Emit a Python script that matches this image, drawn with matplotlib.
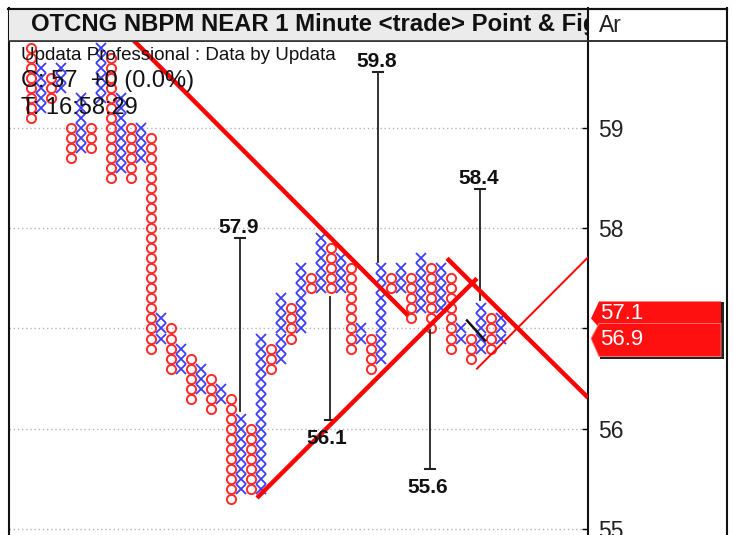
import matplotlib
matplotlib.use('Agg')
import matplotlib.pyplot as plt
import numpy as np
from matplotlib.patches import Polygon, Rectangle

plt.rcParams['font.family'] = ['Liberation Sans', 'DejaVu Sans']

# ---- Point & Figure columns (box size 0.1) ----
col_type = ['O', 'X'] * 24
col_high = [59.8, 59.6, 59.5, 59.6, 59.0, 59.3, 59.0, 59.8, 59.7, 59.3, 59.0, 59.0,
            58.9, 57.1, 57.0, 56.8, 56.7, 56.6, 56.5, 56.4, 56.3, 56.1, 56.0, 56.9,
            56.8, 57.3, 57.2, 57.6, 57.5, 57.9, 57.8, 57.7, 57.6, 57.0, 56.9, 57.6,
            57.5, 57.6, 57.5, 57.7, 57.6, 57.6, 57.5, 57.0, 56.9, 57.2, 57.1, 57.1]
col_low = [59.1, 59.2, 59.3, 59.4, 58.7, 58.8, 58.8, 59.3, 58.5, 58.6, 58.5, 58.7,
           56.8, 56.9, 56.6, 56.6, 56.3, 56.4, 56.2, 56.3, 55.3, 55.4, 55.4, 55.4,
           56.6, 56.7, 56.9, 57.0, 57.4, 57.4, 57.4, 57.4, 56.8, 56.9, 56.6, 56.7,
           57.4, 57.4, 57.1, 57.2, 57.0, 57.2, 56.8, 56.9, 56.7, 56.8, 56.8, 56.9]
box = 0.1

# trend lines (column, price) end points
thick_lines_x = [(10.2, 37.7), (22.6, 44.6), (41.6, 55.7)]
thick_lines_y = [(59.88, 57.13), (55.31, 57.50), (57.70, 56.31)]
thin_line_x = (44.6, 55.7)
thin_line_y = (56.60, 57.71)
black_seg_x = (43.6, 45.4)
black_seg_y = (57.08, 56.88)

# price targets
target_labels = ['57.9', '59.8', '58.4', '56.1', '55.6']
target_col = [20.9, 34.7, 44.9, 29.9, 39.9]
target_cap = [57.90, 59.56, 58.39, 56.09, 55.60]
target_end = [56.18, 57.66, 57.28, 57.31, 56.99]
target_up = [True, True, True, False, False]

yticks = [55, 56, 57, 58, 59]
last_labels = ['57.1', '56.9']
last_values = [57.1, 56.9]

title = 'OTCNG NBPM NEAR 1 Minute <trade> Point & Fig'
sub1 = 'Updata Professional : Data by Updata'
sub2 = 'C: 57  +0 (0.0%)'
sub3 = 'T: 16:58:29'

W, H = 734, 535
fig = plt.figure(figsize=(W / 100, H / 100), dpi=100)

ax = fig.add_axes([9 / W, 0, (588 - 9) / W, (535 - 41) / H])
ax.set_xlim(-2.2, 55.7)
ax.set_ylim(54.94, 59.868)

red = '#ff2a2a'
blue = '#3c3cff'
for k, (t, hi, lo) in enumerate(zip(col_type, col_high, col_low)):
    n = int(round((hi - lo) / box)) + 1
    ps = lo + box * np.arange(n)
    if t == 'O':
        ax.plot([k] * n, ps, ls='none', marker='o', ms=6.6, mew=1.4,
                mfc='none', mec=red, zorder=3)
    else:
        ax.plot([k] * n, ps, ls='none', marker='x', ms=7.6, mew=1.3,
                color=blue, zorder=2)

for xs, ys in zip(thick_lines_x, thick_lines_y):
    ax.plot(xs, ys, color='#ff0000', lw=3.2, zorder=5, solid_capstyle='butt')
ax.plot(thin_line_x, thin_line_y, color='#ff0000', lw=1.4, zorder=5)
ax.plot(black_seg_x, black_seg_y, color='#111111', lw=1.8, zorder=5)

for lab, cx, cap, end, up in zip(target_labels, target_col, target_cap, target_end, target_up):
    ax.plot([cx, cx], [cap, end], color='#222222', lw=1.3, zorder=4)
    ax.plot([cx - 0.5, cx + 0.5], [cap, cap], color='#222222', lw=1.5, zorder=4)
    if up:
        ax.annotate(lab, (cx, cap), xytext=(-1, 7.5), textcoords='offset points',
                    ha='center', va='center', fontsize=15, fontweight='bold',
                    color='#111111', zorder=6)
    else:
        ax.annotate(lab, (cx, cap), xytext=(-2, -13.5), textcoords='offset points',
                    ha='center', va='center', fontsize=15, fontweight='bold',
                    color='#111111', zorder=6)

ax.set_yticks(yticks)
ax.set_yticklabels([str(v) for v in yticks])
ax.yaxis.tick_right()
ax.tick_params(axis='y', direction='in', length=4.5, width=1.0, pad=7.5,
               labelsize=16.5, labelcolor='#222222')
ax.set_xticks([])
ax.yaxis.grid(True, color='#b5b5b5', lw=1.0, ls=(0, (1, 2)))
ax.set_axisbelow(True)
for s in ['left', 'top', 'bottom']:
    ax.spines[s].set_visible(False)
ax.spines['right'].set_linewidth(1.5)
ax.spines['right'].set_color('#111111')
ax.patch.set_alpha(0)

# overlay in pixel coordinates
ov = fig.add_axes([0, 0, 1, 1], zorder=10)
ov.set_xlim(0, W)
ov.set_ylim(H, 0)
ov.axis('off')
ov.patch.set_visible(False)

# header (title in its own clipped axes)
hdr = fig.add_axes([9 / W, 1 - 41 / H, 579 / W, 32 / H], zorder=11)
hdr.set_xlim(9, 588)
hdr.set_ylim(41, 9)
hdr.axis('off')
hdr.add_patch(Rectangle((9, 9), 579, 32, facecolor='#ebebeb', edgecolor='none'))
hdr.text(31, 25, title, fontsize=17.2, fontweight='bold', ha='left',
         va='center', color='#111111', clip_on=True)

ov.add_patch(Rectangle((588, 9), 139, 32, facecolor='white', edgecolor='none'))
ov.plot([9, 727], [41, 41], color='#333333', lw=1.2)
ov.plot([8, 727], [8.5, 8.5], color='#111111', lw=1.5)
ov.plot([8.5, 8.5], [8, 535], color='#111111', lw=1.5)
ov.plot([726.5, 726.5], [8, 535], color='#111111', lw=1.5)
ov.text(599, 25, 'Ar', fontsize=16.5, ha='left', va='center', color='#222222')

ov.text(21, 55, sub1, fontsize=13.5, ha='left', va='center', color='#111111')
ov.text(21, 81, sub2, fontsize=17, ha='left', va='center', color='#111111')
ov.text(21, 108, sub3, fontsize=17, ha='left', va='center', color='#111111')

# last price labels
def py(p):
    return 128 + (59 - p) * 100.25

p1, p2 = py(last_values[0]), py(last_values[1])
ov.add_patch(Polygon([(600, p1 - 16), (724, p1 - 16), (724, p2 + 20), (600, p2 + 20)],
                     closed=True, facecolor='#222222', edgecolor='none'))
ov.add_patch(Polygon([(599, p1 - 17), (721, p1 - 17), (721, p1 + 9), (599, p1 + 9), (591, p1)],
                     closed=True, facecolor='#ff1010', edgecolor='none'))
ov.add_patch(Polygon([(599, p2 - 15), (721, p2 - 15), (721, p2 + 18), (599, p2 + 18), (591, p2)],
                     closed=True, facecolor='#ff1010', edgecolor='#ff8080', lw=0.6))
ov.text(600, p1 - 5, last_labels[0], fontsize=16, ha='left', va='center', color='white')
ov.text(600, p2 + 1, last_labels[1], fontsize=16, ha='left', va='center', color='white')

# divider lines on top of header
top = fig.add_axes([0, 0, 1, 1], zorder=12)
top.set_xlim(0, W)
top.set_ylim(H, 0)
top.axis('off')
top.patch.set_visible(False)
top.plot([588, 588], [8, 41], color='#111111', lw=1.5)
top.plot([8, 727], [8.5, 8.5], color='#111111', lw=1.5)
top.plot([9, 727], [41, 41], color='#333333', lw=1.2)

fig.savefig('out.png', dpi=100)
